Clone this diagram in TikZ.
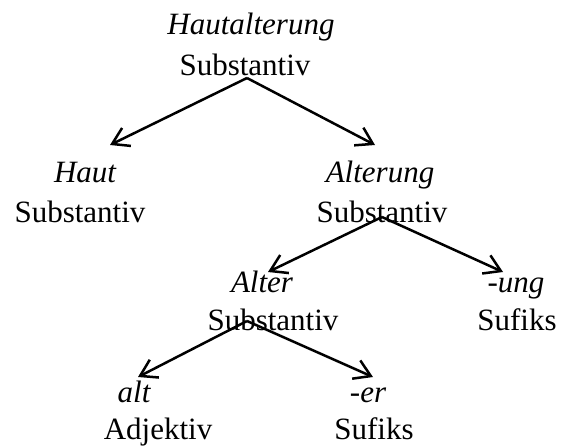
\documentclass[tikz,border=0pt]{standalone}
\usepackage{fontspec}
\setmainfont{Liberation Serif}
\usetikzlibrary{arrows.meta}
\begin{document}
\begin{tikzpicture}[x=1pt,y=-1pt,
  lbl/.style={anchor=base,inner sep=0pt,font=\fontsize{31}{37}\selectfont},
  word/.style={lbl,font=\fontsize{31}{37}\selectfont\itshape},
  arr/.style={line width=2.5pt,-{Straight Barb[length=16pt,width=20pt,line width=2.5pt]}}]
\useasboundingbox (0,0) rectangle (570,445);
% level 0
\node[word] (w0) at (251,34) {Hautalterung};
\node[lbl]  (s0) at (245,75) {Substantiv};
% level 1
\node[word] (w1) at (85,182) {Haut};
\node[lbl]  (s1) at (80,222) {Substantiv};
\node[word] (w2) at (380,182) {Alterung};
\node[lbl]  (s2) at (382,222) {Substantiv};
% level 2
\node[word] (w3) at (262,292) {Alter};
\node[lbl]  (s3) at (273,330) {Substantiv};
\node[word] (w4) at (516,292) {-ung};
\node[lbl]  (s4) at (517,330) {Sufiks};
% level 3
\node[word] (w5) at (134,402) {alt};
\node[lbl]  (s5) at (158,439) {Adjektiv};
\node[word] (w6) at (368,402) {-er};
\node[lbl]  (s6) at (374,439) {Sufiks};
% arrows
\draw[arr] ([xshift=2pt,yshift=-3pt]s0.base) -- ([xshift=25pt,yshift=37pt]w1.base);
\draw[arr] ([xshift=2pt,yshift=-3pt]s0.base) -- ([xshift=-5pt,yshift=37pt]w2.base);
\draw[arr] ([yshift=5pt]s2.base) -- ([xshift=6pt,yshift=20pt]w3.base);
\draw[arr] ([yshift=5pt]s2.base) -- ([xshift=-13pt,yshift=20pt]w4.base);
\draw[arr] ([xshift=-26pt,yshift=9pt]s3.base) -- ([xshift=4pt,yshift=25pt]w5.base);
\draw[arr] ([xshift=-26pt,yshift=9pt]s3.base) -- ([xshift=5pt,yshift=25pt]w6.base);
\end{tikzpicture}
\end{document}
